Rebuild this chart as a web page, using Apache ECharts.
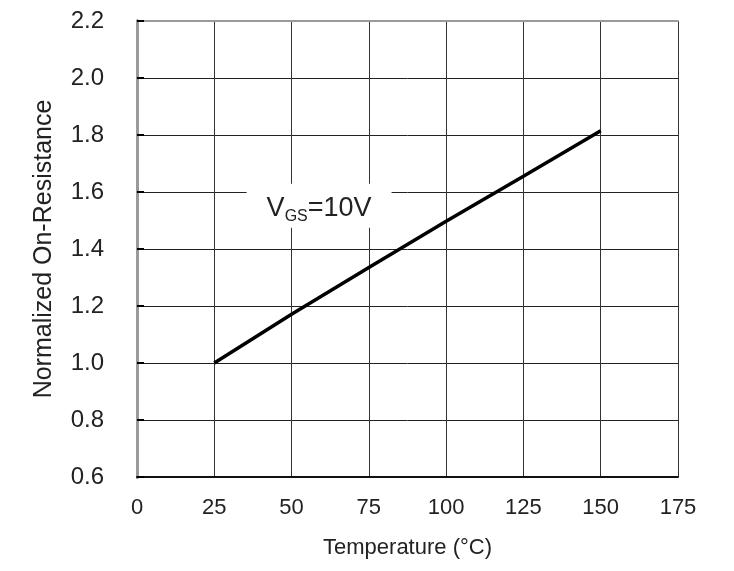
<!DOCTYPE html>
<html>
<head>
<meta charset="utf-8">
<script src="https://cdn.jsdelivr.net/npm/echarts@6/dist/echarts.min.js"></script>
<style>
  html, body { margin: 0; padding: 0; background: #fff; }
  #chart { width: 734px; height: 571px; }
</style>
</head>
<body>
<div id="chart"></div>
<script>
// Junction temperature (°C) and normalized R_DS(on) at V_GS = 10 V
const temperature = [25, 50, 75, 100, 125, 150];
const normalizedRds = [1.0, 1.171, 1.335, 1.497, 1.655, 1.815];

// Axis ranges and ticks
const xTicks = { min: 0, max: 175, step: 25 };
const yTicks = { min: 0.6, max: 2.2, step: 0.2 };

// Curve annotation, placed in data coordinates
const annotationAt = [58.9, 1.552];

const font = '"Liberation Sans", Arial, sans-serif';
const chart = echarts.init(document.getElementById('chart'), null, { renderer: 'canvas' });

chart.setOption({
  animation: false,
  backgroundColor: '#ffffff',
  grid: { left: 137, right: 56, top: 21, bottom: 94, containLabel: false },
  xAxis: [
    {
      type: 'value',
      min: xTicks.min, max: xTicks.max, interval: xTicks.step,
      name: 'Temperature (°C)',
      nameLocation: 'middle',
      nameGap: 60,
      nameTextStyle: { fontFamily: font, fontSize: 22, color: '#222' },
      axisLine: { show: true, onZero: false, lineStyle: { color: '#111', width: 2 } },
      axisTick: { show: false },
      axisLabel: { fontFamily: font, fontSize: 22, color: '#222', margin: 20 },
      splitLine: { show: true, lineStyle: { color: '#333', width: 1 } }
    },
    {
      type: 'value', position: 'top',
      min: xTicks.min, max: xTicks.max, interval: xTicks.step,
      axisLine: { show: true, lineStyle: { color: '#9a9a9a', width: 2 } },
      axisTick: { show: false }, axisLabel: { show: false }, splitLine: { show: false }
    }
  ],
  yAxis: [
    {
      type: 'value',
      min: yTicks.min, max: yTicks.max, interval: yTicks.step,
      name: 'Normalized On-Resistance',
      nameLocation: 'middle',
      nameGap: 80,
      nameTextStyle: { fontFamily: font, fontSize: 25, color: '#222' },
      axisLine: { show: true, onZero: false, lineStyle: { color: '#000', width: 3 } },
      axisTick: { show: true, inside: true, length: 7, lineStyle: { color: '#000', width: 2 } },
      axisLabel: {
        fontFamily: font, fontSize: 24, color: '#222', margin: 33,
        formatter: v => v.toFixed(1)
      },
      splitLine: { show: true, lineStyle: { color: '#222', width: 1 } }
    },
    {
      type: 'value', position: 'right',
      min: yTicks.min, max: yTicks.max, interval: yTicks.step,
      axisLine: { show: true, lineStyle: { color: '#9a9a9a', width: 3 } },
      axisTick: { show: false }, axisLabel: { show: false }, splitLine: { show: false }
    }
  ],
  series: [
    {
      type: 'line',
      data: temperature.map((t, i) => [t, normalizedRds[i]]),
      showSymbol: false,
      lineStyle: { color: '#000', width: 3.5 },
      z: 5,
      markPoint: {
        symbol: 'rect',
        symbolSize: 0,
        silent: true,
        data: [{ coord: annotationAt }],
        label: {
          show: true,
          position: 'inside',
          backgroundColor: '#fff',
          padding: [8, 20, 6, 20],
          formatter: '{a|V}{b|GS}{a|=10V}',
          rich: {
            a: { fontFamily: font, fontSize: 27, color: '#222', lineHeight: 30, verticalAlign: 'bottom' },
            b: { fontFamily: font, fontSize: 16, color: '#222', lineHeight: 16, verticalAlign: 'bottom', padding: [0, 0, -3, 0] }
          }
        }
      }
    }
  ]
});
</script>
</body>
</html>
